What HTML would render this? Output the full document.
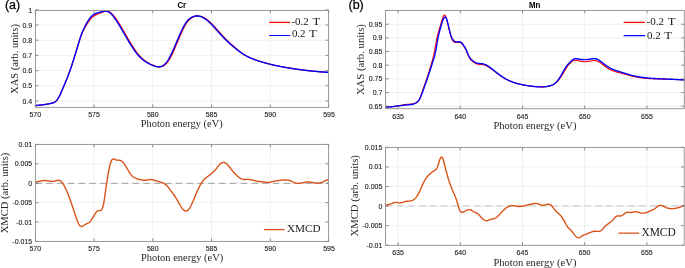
<!DOCTYPE html>
<html><head><meta charset="utf-8"><title>XAS / XMCD</title>
<style>html,body{margin:0;padding:0;background:#fff;width:685px;height:268px;overflow:hidden}svg{display:block;will-change:transform}</style>
</head><body>
<svg width="685" height="268" viewBox="0 0 685 268">
<defs><clipPath id="cTL"><rect x="35.4" y="10.4" width="293.2" height="96.95"/></clipPath><clipPath id="cBL"><rect x="35.4" y="144.4" width="293.2" height="97"/></clipPath><clipPath id="cTR"><rect x="385.6" y="10.4" width="298.7" height="98.3"/></clipPath><clipPath id="cBR"><rect x="385.6" y="147.4" width="298.6" height="97.9"/></clipPath></defs>
<rect width="685" height="268" fill="#fff"/>
<g stroke="#e6e6e6" stroke-width="0.6"><line x1="94.05" y1="10.4" x2="94.05" y2="107.35"/><line x1="152.8" y1="10.4" x2="152.8" y2="107.35"/><line x1="211.55" y1="10.4" x2="211.55" y2="107.35"/><line x1="270.3" y1="10.4" x2="270.3" y2="107.35"/><line x1="35.4" y1="101" x2="328.6" y2="101"/><line x1="35.4" y1="85.8" x2="328.6" y2="85.8"/><line x1="35.4" y1="70.6" x2="328.6" y2="70.6"/><line x1="35.4" y1="55.4" x2="328.6" y2="55.4"/><line x1="35.4" y1="40.2" x2="328.6" y2="40.2"/><line x1="35.4" y1="25" x2="328.6" y2="25"/></g>
<g stroke="#e6e6e6" stroke-width="0.6"><line x1="94.05" y1="144.4" x2="94.05" y2="241.4"/><line x1="152.8" y1="144.4" x2="152.8" y2="241.4"/><line x1="211.55" y1="144.4" x2="211.55" y2="241.4"/><line x1="270.3" y1="144.4" x2="270.3" y2="241.4"/><line x1="35.4" y1="222" x2="328.6" y2="222"/><line x1="35.4" y1="202.6" x2="328.6" y2="202.6"/><line x1="35.4" y1="183.2" x2="328.6" y2="183.2"/><line x1="35.4" y1="163.8" x2="328.6" y2="163.8"/></g>
<g stroke="#e6e6e6" stroke-width="0.6"><line x1="398.05" y1="10.4" x2="398.05" y2="108.7"/><line x1="460.27" y1="10.4" x2="460.27" y2="108.7"/><line x1="522.5" y1="10.4" x2="522.5" y2="108.7"/><line x1="584.73" y1="10.4" x2="584.73" y2="108.7"/><line x1="646.96" y1="10.4" x2="646.96" y2="108.7"/><line x1="385.6" y1="106.2" x2="684.3" y2="106.2"/><line x1="385.6" y1="92.54" x2="684.3" y2="92.54"/><line x1="385.6" y1="78.87" x2="684.3" y2="78.87"/><line x1="385.6" y1="65.2" x2="684.3" y2="65.2"/><line x1="385.6" y1="51.54" x2="684.3" y2="51.54"/><line x1="385.6" y1="37.88" x2="684.3" y2="37.88"/><line x1="385.6" y1="24.21" x2="684.3" y2="24.21"/></g>
<g stroke="#e6e6e6" stroke-width="0.6"><line x1="398.04" y1="147.4" x2="398.04" y2="245.3"/><line x1="460.25" y1="147.4" x2="460.25" y2="245.3"/><line x1="522.46" y1="147.4" x2="522.46" y2="245.3"/><line x1="584.67" y1="147.4" x2="584.67" y2="245.3"/><line x1="646.88" y1="147.4" x2="646.88" y2="245.3"/><line x1="385.6" y1="225.72" x2="684.2" y2="225.72"/><line x1="385.6" y1="206.14" x2="684.2" y2="206.14"/><line x1="385.6" y1="186.56" x2="684.2" y2="186.56"/><line x1="385.6" y1="166.98" x2="684.2" y2="166.98"/></g>
<line x1="35.4" y1="183.4" x2="328.6" y2="183.4" stroke="#8f8f8f" stroke-width="0.8" stroke-dasharray="6.5 4.3"/>
<line x1="385.8" y1="205.9" x2="684.2" y2="205.9" stroke="#cfcfcf" stroke-width="1.2" stroke-dasharray="6.9 4.1"/>
<g fill="none" stroke-linejoin="round" stroke-linecap="round">
<path clip-path="url(#cTL)" d="M35.4,105.59 35.9,105.54 36.4,105.5 36.9,105.45 37.4,105.4 37.9,105.34 38.4,105.29 38.9,105.24 39.4,105.19 39.9,105.13 40.4,105.08 40.9,105.02 41.4,104.96 41.9,104.9 42.4,104.84 42.9,104.77 43.4,104.71 43.9,104.64 44.4,104.57 44.9,104.49 45.4,104.42 45.9,104.34 46.4,104.26 46.9,104.18 47.4,104.09 47.9,104 48.4,103.91 48.9,103.81 49.4,103.71 49.9,103.61 50.4,103.51 50.9,103.4 51.4,103.28 51.9,103.16 52.4,103.03 52.9,102.89 53.4,102.72 53.9,102.51 54.4,102.26 54.9,101.97 55.4,101.61 55.9,101.19 56.4,100.7 56.9,100.13 57.4,99.47 57.9,98.73 58.4,97.91 58.9,97.02 59.4,96.07 59.9,95.07 60.4,94.02 60.9,92.92 61.4,91.8 61.9,90.65 62.4,89.48 62.9,88.3 63.4,87.11 63.9,85.93 64.4,84.74 64.9,83.55 65.4,82.36 65.9,81.15 66.4,79.93 66.9,78.69 67.4,77.44 67.9,76.16 68.4,74.86 68.91,73.54 69.41,72.18 69.91,70.79 70.41,69.37 70.91,67.92 71.41,66.44 71.92,64.93 72.42,63.4 72.92,61.84 73.43,60.27 73.93,58.68 74.44,57.06 74.94,55.44 75.45,53.8 75.96,52.15 76.47,50.49 76.98,48.82 77.49,47.15 78,45.48 78.52,43.8 79.04,42.12 79.56,40.47 80.08,38.86 80.61,37.3 81.14,35.83 81.67,34.45 82.2,33.18 82.73,31.98 83.27,30.84 83.81,29.76 84.34,28.71 84.88,27.69 85.42,26.7 85.95,25.75 86.49,24.84 87.02,23.96 87.55,23.12 88.08,22.32 88.61,21.55 89.13,20.83 89.65,20.15 90.17,19.5 90.69,18.9 91.2,18.33 91.72,17.8 92.23,17.31 92.74,16.86 93.25,16.45 93.76,16.07 94.26,15.73 94.77,15.41 95.27,15.12 95.78,14.85 96.28,14.6 96.78,14.37 97.29,14.15 97.79,13.94 98.29,13.74 98.79,13.54 99.29,13.35 99.79,13.16 100.29,12.98 100.8,12.79 101.3,12.6 101.8,12.4 102.3,12.21 102.8,12.02 103.3,11.84 103.8,11.67 104.3,11.53 104.8,11.4 105.3,11.31 105.8,11.24 106.3,11.21 106.8,11.22 107.3,11.26 107.8,11.35 108.3,11.48 108.8,11.66 109.3,11.87 109.8,12.14 110.3,12.44 110.8,12.79 111.3,13.19 111.8,13.63 112.3,14.12 112.8,14.64 113.3,15.21 113.8,15.8 114.3,16.43 114.8,17.09 115.3,17.77 115.8,18.47 116.3,19.2 116.8,19.94 117.3,20.69 117.8,21.46 118.3,22.24 118.8,23.03 119.3,23.84 119.8,24.65 120.3,25.47 120.8,26.31 121.3,27.14 121.8,27.99 122.3,28.84 122.8,29.7 123.3,30.56 123.8,31.42 124.3,32.29 124.8,33.16 125.3,34.03 125.8,34.9 126.3,35.77 126.8,36.64 127.3,37.5 127.8,38.37 128.3,39.22 128.8,40.08 129.3,40.93 129.8,41.77 130.3,42.6 130.8,43.43 131.3,44.25 131.8,45.06 132.3,45.85 132.8,46.64 133.3,47.41 133.8,48.18 134.3,48.92 134.8,49.66 135.3,50.37 135.8,51.07 136.3,51.76 136.8,52.42 137.3,53.07 137.8,53.7 138.3,54.31 138.8,54.89 139.3,55.46 139.8,56.01 140.3,56.54 140.8,57.05 141.3,57.55 141.8,58.03 142.3,58.49 142.8,58.93 143.3,59.36 143.8,59.77 144.3,60.17 144.8,60.56 145.3,60.93 145.8,61.28 146.3,61.63 146.8,61.96 147.3,62.27 147.8,62.58 148.3,62.88 148.8,63.16 149.3,63.43 149.8,63.7 150.3,63.95 150.8,64.2 151.3,64.43 151.8,64.66 152.3,64.88 152.8,65.1 153.3,65.3 153.8,65.5 154.3,65.7 154.8,65.88 155.3,66.05 155.8,66.21 156.3,66.36 156.8,66.49 157.3,66.6 157.8,66.69 158.3,66.76 158.8,66.81 159.3,66.83 159.8,66.82 160.3,66.79 160.8,66.73 161.3,66.63 161.8,66.5 162.3,66.34 162.8,66.14 163.3,65.9 163.8,65.62 164.3,65.3 164.8,64.93 165.3,64.53 165.8,64.07 166.3,63.57 166.8,63.02 167.3,62.43 167.8,61.78 168.3,61.09 168.8,60.35 169.3,59.55 169.8,58.71 170.3,57.82 170.8,56.9 171.3,55.93 171.8,54.93 172.3,53.9 172.8,52.84 173.3,51.75 173.8,50.64 174.3,49.51 174.8,48.36 175.3,47.2 175.8,46.03 176.3,44.85 176.8,43.67 177.3,42.49 177.8,41.3 178.3,40.12 178.8,38.94 179.3,37.77 179.8,36.6 180.3,35.45 180.8,34.31 181.3,33.18 181.8,32.07 182.3,30.99 182.8,29.93 183.3,28.9 183.8,27.9 184.3,26.93 184.8,26.01 185.3,25.12 185.8,24.29 186.3,23.5 186.8,22.76 187.3,22.07 187.8,21.43 188.3,20.84 188.8,20.29 189.3,19.79 189.8,19.32 190.3,18.89 190.8,18.5 191.3,18.13 191.8,17.8 192.3,17.5 192.8,17.23 193.3,16.98 193.8,16.76 194.3,16.57 194.8,16.4 195.3,16.27 195.8,16.15 196.3,16.06 196.8,16 197.3,15.96 197.8,15.95 198.3,15.96 198.8,16 199.3,16.05 199.8,16.13 200.3,16.23 200.8,16.36 201.3,16.5 201.8,16.67 202.3,16.86 202.8,17.07 203.3,17.29 203.8,17.54 204.3,17.81 204.8,18.09 205.3,18.4 205.8,18.72 206.3,19.06 206.8,19.42 207.3,19.79 207.8,20.18 208.3,20.59 208.8,21.01 209.3,21.44 209.79,21.89 210.29,22.35 210.79,22.82 211.29,23.3 211.79,23.8 212.29,24.3 212.79,24.81 213.29,25.34 213.79,25.86 214.29,26.4 214.79,26.94 215.29,27.49 215.79,28.04 216.29,28.6 216.78,29.16 217.28,29.72 217.78,30.28 218.28,30.84 218.78,31.41 219.28,31.97 219.77,32.54 220.27,33.1 220.77,33.66 221.27,34.21 221.76,34.77 222.26,35.31 222.76,35.85 223.25,36.39 223.75,36.92 224.25,37.44 224.74,37.95 225.24,38.46 225.73,38.96 226.23,39.46 226.72,39.94 227.22,40.43 227.71,40.9 228.2,41.37 228.69,41.84 229.19,42.3 229.68,42.75 230.17,43.21 230.66,43.65 231.15,44.1 231.64,44.53 232.13,44.97 232.61,45.4 233.1,45.83 233.59,46.26 234.08,46.68 234.56,47.1 235.05,47.52 235.53,47.93 236.01,48.35 236.5,48.76 236.98,49.16 237.46,49.56 237.95,49.96 238.43,50.36 238.91,50.74 239.39,51.13 239.87,51.51 240.35,51.88 240.84,52.24 241.32,52.6 241.8,52.95 242.28,53.29 242.76,53.63 243.24,53.95 243.73,54.27 244.21,54.58 244.69,54.88 245.18,55.17 245.66,55.46 246.15,55.73 246.63,56 247.12,56.26 247.6,56.52 248.09,56.77 248.58,57.01 249.07,57.25 249.56,57.48 250.04,57.7 250.54,57.92 251.03,58.13 251.52,58.34 252.01,58.55 252.5,58.75 252.99,58.94 253.49,59.13 253.98,59.32 254.47,59.51 254.97,59.69 255.46,59.87 255.96,60.05 256.45,60.22 256.95,60.39 257.45,60.56 257.94,60.73 258.44,60.9 258.94,61.06 259.43,61.22 259.93,61.38 260.43,61.54 260.93,61.7 261.42,61.85 261.92,62 262.42,62.15 262.92,62.3 263.42,62.45 263.92,62.59 264.42,62.74 264.91,62.88 265.41,63.02 265.91,63.15 266.41,63.29 266.91,63.42 267.41,63.56 267.91,63.69 268.41,63.82 268.91,63.94 269.41,64.07 269.91,64.19 270.41,64.32 270.91,64.44 271.4,64.56 271.9,64.68 272.4,64.79 272.9,64.91 273.4,65.02 273.9,65.14 274.4,65.25 274.9,65.36 275.4,65.47 275.9,65.57 276.4,65.68 276.9,65.78 277.4,65.89 277.9,65.99 278.4,66.09 278.9,66.19 279.4,66.29 279.9,66.39 280.4,66.48 280.9,66.58 281.4,66.67 281.9,66.77 282.4,66.86 282.9,66.95 283.4,67.04 283.9,67.13 284.4,67.22 284.9,67.31 285.4,67.4 285.9,67.48 286.4,67.57 286.9,67.65 287.4,67.74 287.9,67.82 288.4,67.9 288.9,67.98 289.4,68.06 289.9,68.14 290.4,68.22 290.9,68.3 291.4,68.38 291.9,68.46 292.4,68.54 292.9,68.61 293.4,68.69 293.9,68.76 294.4,68.84 294.9,68.91 295.4,68.98 295.9,69.06 296.4,69.13 296.9,69.2 297.4,69.27 297.9,69.34 298.4,69.41 298.9,69.48 299.4,69.54 299.9,69.61 300.4,69.68 300.9,69.74 301.4,69.81 301.9,69.87 302.4,69.94 302.9,70 303.4,70.06 303.9,70.13 304.4,70.19 304.9,70.25 305.4,70.31 305.9,70.37 306.4,70.43 306.9,70.48 307.4,70.54 307.9,70.6 308.4,70.65 308.9,70.71 309.4,70.76 309.9,70.82 310.4,70.87 310.9,70.92 311.4,70.98 311.9,71.03 312.4,71.08 312.9,71.13 313.4,71.18 313.9,71.23 314.4,71.28 314.9,71.32 315.4,71.37 315.9,71.42 316.4,71.46 316.9,71.51 317.4,71.55 317.9,71.6 318.4,71.64 318.9,71.68 319.4,71.72 319.9,71.77 320.4,71.81 320.9,71.85 321.4,71.89 321.9,71.93 322.4,71.96 322.9,72 323.4,72.04 323.9,72.07 324.4,72.11 324.9,72.14 325.4,72.18 325.9,72.21 326.4,72.25 326.9,72.28 327.4,72.31 327.9,72.34 328.4,72.37 328.6,72.38" stroke="#ff0000" stroke-width="1.2"/>
<path clip-path="url(#cTL)" d="M35.4,105.59 35.9,105.54 36.4,105.5 36.9,105.45 37.4,105.4 37.9,105.34 38.4,105.29 38.9,105.24 39.4,105.19 39.9,105.13 40.4,105.08 40.9,105.02 41.4,104.96 41.9,104.9 42.4,104.84 42.9,104.77 43.4,104.71 43.9,104.64 44.4,104.57 44.9,104.49 45.4,104.42 45.9,104.34 46.4,104.26 46.9,104.18 47.4,104.09 47.9,104 48.4,103.91 48.9,103.81 49.4,103.71 49.9,103.61 50.4,103.51 50.9,103.4 51.4,103.28 51.9,103.16 52.4,103.03 52.9,102.89 53.4,102.72 53.9,102.51 54.4,102.26 54.9,101.97 55.4,101.61 55.9,101.19 56.4,100.7 56.9,100.13 57.4,99.47 57.9,98.73 58.4,97.91 58.9,97.02 59.4,96.07 59.9,95.07 60.4,94.02 60.9,92.92 61.4,91.8 61.9,90.65 62.4,89.48 62.9,88.3 63.4,87.11 63.9,85.93 64.4,84.74 64.9,83.55 65.4,82.36 65.9,81.15 66.4,79.93 66.9,78.69 67.4,77.44 67.9,76.16 68.4,74.86 68.9,73.54 69.4,72.18 69.9,70.79 70.4,69.37 70.9,67.92 71.4,66.44 71.9,64.93 72.4,63.4 72.9,61.84 73.4,60.27 73.9,58.68 74.4,57.06 74.9,55.44 75.4,53.8 75.9,52.15 76.4,50.49 76.9,48.82 77.4,47.15 77.9,45.47 78.4,43.79 78.9,42.11 79.4,40.46 79.9,38.84 80.4,37.28 80.9,35.8 81.4,34.41 81.9,33.12 82.4,31.91 82.9,30.76 83.4,29.66 83.9,28.58 84.4,27.54 84.9,26.52 85.4,25.53 85.9,24.57 86.4,23.65 86.9,22.76 87.4,21.9 87.9,21.09 88.4,20.3 88.9,19.56 89.4,18.85 89.9,18.19 90.4,17.56 90.9,16.98 91.4,16.44 91.9,15.95 92.4,15.5 92.9,15.09 93.4,14.73 93.9,14.41 94.4,14.12 94.9,13.87 95.4,13.64 95.9,13.44 96.4,13.26 96.9,13.09 97.4,12.95 97.9,12.81 98.4,12.68 98.9,12.55 99.4,12.43 99.9,12.3 100.4,12.16 100.9,12.02 101.4,11.88 101.9,11.74 102.4,11.6 102.9,11.48 103.4,11.36 103.9,11.27 104.4,11.2 104.9,11.15 105.4,11.14 105.9,11.16 106.4,11.22 106.9,11.32 107.4,11.46 107.9,11.64 108.4,11.86 108.9,12.12 109.4,12.43 109.9,12.79 110.4,13.18 110.9,13.63 111.4,14.12 111.9,14.64 112.4,15.2 112.9,15.8 113.4,16.43 113.9,17.09 114.4,17.77 114.9,18.47 115.4,19.2 115.9,19.94 116.4,20.69 116.9,21.46 117.4,22.24 117.9,23.03 118.4,23.84 118.9,24.65 119.4,25.47 119.9,26.31 120.4,27.14 120.9,27.99 121.4,28.84 121.9,29.7 122.4,30.56 122.9,31.42 123.4,32.29 123.9,33.16 124.4,34.03 124.9,34.9 125.4,35.77 125.9,36.64 126.4,37.5 126.9,38.37 127.4,39.22 127.9,40.08 128.4,40.93 128.9,41.77 129.4,42.6 129.9,43.43 130.4,44.25 130.9,45.06 131.4,45.85 131.9,46.64 132.4,47.41 132.9,48.18 133.4,48.92 133.9,49.66 134.4,50.37 134.9,51.07 135.4,51.76 135.9,52.42 136.4,53.07 136.9,53.7 137.4,54.31 137.9,54.89 138.4,55.46 138.9,56.01 139.4,56.54 139.9,57.05 140.4,57.55 140.9,58.03 141.4,58.49 141.9,58.93 142.4,59.36 142.9,59.77 143.4,60.17 143.9,60.56 144.4,60.93 144.9,61.28 145.4,61.63 145.9,61.96 146.4,62.27 146.9,62.58 147.4,62.88 147.9,63.16 148.4,63.43 148.9,63.7 149.4,63.95 149.9,64.2 150.4,64.43 150.9,64.66 151.4,64.88 151.9,65.1 152.4,65.3 152.9,65.5 153.4,65.7 153.9,65.88 154.4,66.05 154.9,66.21 155.4,66.36 155.9,66.49 156.4,66.6 156.9,66.69 157.4,66.76 157.9,66.81 158.4,66.83 158.9,66.82 159.4,66.79 159.9,66.73 160.4,66.63 160.9,66.5 161.4,66.34 161.9,66.14 162.4,65.9 162.9,65.62 163.4,65.3 163.9,64.93 164.4,64.53 164.9,64.07 165.4,63.57 165.9,63.02 166.4,62.43 166.9,61.78 167.4,61.09 167.9,60.35 168.4,59.55 168.9,58.71 169.4,57.82 169.9,56.9 170.4,55.93 170.9,54.93 171.4,53.9 171.9,52.84 172.4,51.75 172.9,50.64 173.4,49.51 173.9,48.36 174.4,47.2 174.9,46.03 175.4,44.85 175.9,43.67 176.4,42.49 176.9,41.3 177.4,40.12 177.9,38.94 178.4,37.77 178.9,36.6 179.4,35.45 179.9,34.31 180.4,33.18 180.9,32.07 181.4,30.99 181.9,29.93 182.4,28.9 182.9,27.9 183.4,26.93 183.9,26.01 184.4,25.12 184.9,24.29 185.4,23.5 185.9,22.76 186.4,22.07 186.9,21.43 187.4,20.84 187.9,20.29 188.4,19.79 188.9,19.32 189.4,18.89 189.9,18.5 190.4,18.13 190.9,17.8 191.4,17.5 191.9,17.23 192.4,16.98 192.9,16.76 193.4,16.57 193.9,16.4 194.4,16.27 194.9,16.15 195.4,16.06 195.9,16 196.4,15.96 196.9,15.95 197.4,15.96 197.9,16 198.4,16.05 198.9,16.13 199.4,16.23 199.9,16.36 200.4,16.5 200.9,16.67 201.4,16.86 201.9,17.07 202.4,17.29 202.9,17.54 203.4,17.81 203.9,18.09 204.4,18.4 204.9,18.72 205.4,19.06 205.9,19.42 206.4,19.79 206.9,20.18 207.4,20.59 207.9,21.01 208.4,21.44 208.9,21.89 209.4,22.35 209.9,22.82 210.4,23.3 210.9,23.8 211.4,24.3 211.9,24.81 212.4,25.34 212.9,25.86 213.4,26.4 213.9,26.94 214.4,27.49 214.9,28.04 215.4,28.6 215.9,29.16 216.4,29.72 216.9,30.28 217.4,30.84 217.9,31.41 218.4,31.97 218.9,32.54 219.4,33.1 219.9,33.66 220.4,34.21 220.9,34.77 221.4,35.31 221.9,35.85 222.4,36.39 222.9,36.92 223.4,37.44 223.9,37.95 224.4,38.46 224.9,38.96 225.4,39.46 225.9,39.94 226.4,40.43 226.9,40.9 227.4,41.37 227.9,41.84 228.4,42.3 228.9,42.75 229.4,43.21 229.9,43.65 230.4,44.1 230.9,44.53 231.4,44.97 231.9,45.4 232.4,45.83 232.9,46.26 233.4,46.68 233.9,47.1 234.4,47.52 234.9,47.93 235.4,48.35 235.9,48.76 236.4,49.16 236.9,49.56 237.4,49.96 237.9,50.36 238.4,50.74 238.9,51.13 239.4,51.51 239.9,51.88 240.4,52.24 240.9,52.6 241.4,52.95 241.9,53.29 242.4,53.63 242.9,53.95 243.4,54.27 243.9,54.58 244.4,54.88 244.9,55.17 245.4,55.46 245.9,55.73 246.4,56 246.9,56.26 247.4,56.52 247.9,56.77 248.4,57.01 248.9,57.25 249.4,57.48 249.9,57.7 250.4,57.92 250.9,58.13 251.4,58.34 251.9,58.55 252.4,58.75 252.9,58.94 253.4,59.13 253.9,59.32 254.4,59.51 254.9,59.69 255.4,59.87 255.9,60.05 256.4,60.22 256.9,60.39 257.4,60.56 257.9,60.73 258.4,60.9 258.9,61.06 259.4,61.22 259.9,61.38 260.4,61.54 260.9,61.7 261.4,61.85 261.9,62 262.4,62.15 262.9,62.3 263.4,62.45 263.9,62.59 264.4,62.74 264.9,62.88 265.4,63.02 265.9,63.15 266.4,63.29 266.9,63.42 267.4,63.56 267.9,63.69 268.4,63.82 268.9,63.94 269.4,64.07 269.9,64.19 270.4,64.32 270.9,64.44 271.4,64.56 271.9,64.68 272.4,64.79 272.9,64.91 273.4,65.02 273.9,65.14 274.4,65.25 274.9,65.36 275.4,65.47 275.9,65.57 276.4,65.68 276.9,65.78 277.4,65.89 277.9,65.99 278.4,66.09 278.9,66.19 279.4,66.29 279.9,66.39 280.4,66.48 280.9,66.58 281.4,66.67 281.9,66.77 282.4,66.86 282.9,66.95 283.4,67.04 283.9,67.13 284.4,67.22 284.9,67.31 285.4,67.4 285.9,67.48 286.4,67.57 286.9,67.65 287.4,67.74 287.9,67.82 288.4,67.9 288.9,67.98 289.4,68.06 289.9,68.14 290.4,68.22 290.9,68.3 291.4,68.38 291.9,68.46 292.4,68.54 292.9,68.61 293.4,68.69 293.9,68.76 294.4,68.84 294.9,68.91 295.4,68.98 295.9,69.06 296.4,69.13 296.9,69.2 297.4,69.27 297.9,69.34 298.4,69.41 298.9,69.48 299.4,69.54 299.9,69.61 300.4,69.68 300.9,69.74 301.4,69.81 301.9,69.87 302.4,69.94 302.9,70 303.4,70.06 303.9,70.13 304.4,70.19 304.9,70.25 305.4,70.31 305.9,70.37 306.4,70.43 306.9,70.48 307.4,70.54 307.9,70.6 308.4,70.65 308.9,70.71 309.4,70.76 309.9,70.82 310.4,70.87 310.9,70.92 311.4,70.98 311.9,71.03 312.4,71.08 312.9,71.13 313.4,71.18 313.9,71.23 314.4,71.28 314.9,71.32 315.4,71.37 315.9,71.42 316.4,71.46 316.9,71.51 317.4,71.55 317.9,71.6 318.4,71.64 318.9,71.68 319.4,71.72 319.9,71.77 320.4,71.81 320.9,71.85 321.4,71.89 321.9,71.93 322.4,71.96 322.9,72 323.4,72.04 323.9,72.07 324.4,72.11 324.9,72.14 325.4,72.18 325.9,72.21 326.4,72.25 326.9,72.28 327.4,72.31 327.9,72.34 328.4,72.37 328.6,72.38" stroke="#0000ff" stroke-width="1.4"/>
<path clip-path="url(#cTR)" d="M385.6,107.09 386.1,107.08 386.6,107.06 387.1,107.05 387.6,107.03 388.1,107 388.6,106.97 389.1,106.94 389.6,106.9 390.1,106.86 390.6,106.82 391.1,106.77 391.6,106.72 392.1,106.66 392.6,106.61 393.1,106.55 393.6,106.48 394.1,106.42 394.6,106.35 395.1,106.28 395.6,106.2 396.1,106.12 396.6,106.04 397.1,105.96 397.6,105.88 398.1,105.79 398.6,105.7 399.1,105.61 399.6,105.52 400.1,105.43 400.6,105.34 401.1,105.24 401.6,105.15 402.1,105.06 402.6,104.97 403.1,104.89 403.6,104.8 404.1,104.72 404.6,104.64 405.1,104.57 405.6,104.5 406.1,104.44 406.6,104.38 407.1,104.33 407.6,104.29 408.1,104.25 408.6,104.21 409.1,104.18 409.6,104.14 410.1,104.11 410.6,104.07 411.1,104.01 411.6,103.95 412.1,103.88 412.59,103.79 413.09,103.69 413.59,103.56 414.08,103.41 414.58,103.23 415.07,103.03 415.56,102.79 416.04,102.53 416.53,102.23 417.01,101.88 417.49,101.49 417.97,101.02 418.44,100.45 418.91,99.78 419.38,98.96 419.84,98.01 420.3,96.94 420.77,95.76 421.23,94.52 421.69,93.22 422.16,91.89 422.63,90.54 423.1,89.18 423.57,87.8 424.05,86.41 424.54,85 425.03,83.58 425.52,82.15 426.01,80.7 426.51,79.24 427,77.78 427.5,76.3 427.99,74.81 428.48,73.31 428.96,71.8 429.44,70.28 429.91,68.75 430.38,67.21 430.84,65.66 431.3,64.09 431.76,62.51 432.21,60.92 432.67,59.31 433.12,57.61 433.58,55.78 434.05,53.74 434.52,51.44 435,48.81 435.49,45.97 435.99,43.04 436.5,40.19 437.02,37.55 437.55,35.23 438.09,33.14 438.64,31.22 439.2,29.38 439.76,27.53 440.32,25.68 440.89,23.81 441.45,21.94 442.02,20.09 442.59,18.33 443.15,16.78 443.71,15.61 444.26,15.01 444.81,15.04 445.36,15.71 445.9,16.92 446.43,18.56 446.96,20.51 447.49,22.64 448.01,24.88 448.53,27.18 449.04,29.47 449.56,31.68 450.07,33.74 450.57,35.6 451.08,37.2 451.59,38.53 452.09,39.61 452.59,40.46 453.09,41.12 453.6,41.61 454.1,41.97 454.6,42.21 455.1,42.37 455.6,42.48 456.1,42.54 456.6,42.56 457.1,42.55 457.6,42.5 458.1,42.44 458.6,42.37 459.1,42.34 459.6,42.37 460.1,42.48 460.6,42.68 461.1,42.98 461.6,43.39 462.1,43.91 462.6,44.53 463.1,45.24 463.6,46 464.1,46.79 464.6,47.58 465.1,48.42 465.6,49.35 466.1,50.4 466.6,51.55 467.1,52.76 467.6,53.98 468.1,55.17 468.6,56.29 469.1,57.29 469.6,58.16 470.1,58.91 470.6,59.55 471.1,60.1 471.6,60.59 472.1,61.03 472.6,61.44 473.1,61.84 473.6,62.2 474.1,62.55 474.6,62.86 475.1,63.15 475.6,63.41 476.1,63.63 476.6,63.83 477.1,63.98 477.6,64.11 478.1,64.2 478.6,64.27 479.1,64.33 479.6,64.37 480.1,64.4 480.6,64.43 481.1,64.46 481.6,64.5 482.1,64.55 482.6,64.62 483.1,64.7 483.6,64.81 484.1,64.94 484.6,65.09 485.1,65.26 485.6,65.45 486.1,65.66 486.6,65.89 487.1,66.14 487.6,66.42 488.1,66.71 488.6,67.02 489.1,67.35 489.6,67.68 490.1,68.03 490.6,68.39 491.1,68.75 491.6,69.12 492.1,69.49 492.6,69.87 493.1,70.25 493.6,70.63 494.1,71.01 494.6,71.4 495.1,71.78 495.6,72.16 496.1,72.55 496.6,72.93 497.1,73.31 497.6,73.69 498.1,74.06 498.6,74.44 499.1,74.8 499.6,75.17 500.1,75.53 500.6,75.88 501.1,76.22 501.6,76.56 502.1,76.89 502.6,77.21 503.1,77.53 503.6,77.83 504.1,78.13 504.6,78.42 505.1,78.7 505.6,78.98 506.1,79.24 506.6,79.5 507.1,79.75 507.6,80 508.1,80.23 508.6,80.46 509.1,80.69 509.6,80.9 510.1,81.11 510.6,81.32 511.1,81.52 511.6,81.71 512.1,81.89 512.6,82.07 513.1,82.25 513.6,82.42 514.1,82.59 514.6,82.75 515.1,82.9 515.6,83.05 516.1,83.2 516.6,83.34 517.1,83.48 517.6,83.61 518.1,83.74 518.6,83.87 519.1,83.99 519.6,84.11 520.1,84.23 520.6,84.34 521.1,84.45 521.6,84.56 522.1,84.66 522.6,84.77 523.1,84.87 523.6,84.97 524.1,85.06 524.6,85.15 525.1,85.24 525.6,85.33 526.1,85.42 526.6,85.5 527.1,85.58 527.6,85.66 528.1,85.74 528.6,85.81 529.1,85.88 529.6,85.95 530.1,86.02 530.6,86.09 531.1,86.15 531.6,86.21 532.1,86.27 532.6,86.32 533.1,86.38 533.6,86.43 534.1,86.48 534.6,86.53 535.1,86.57 535.6,86.62 536.1,86.66 536.6,86.7 537.1,86.73 537.6,86.77 538.1,86.8 538.6,86.82 539.1,86.84 539.6,86.86 540.1,86.88 540.6,86.89 541.1,86.89 541.6,86.89 542.1,86.88 542.6,86.87 543.1,86.85 543.6,86.83 544.1,86.8 544.6,86.76 545.1,86.71 545.6,86.66 546.1,86.6 546.6,86.53 547.1,86.46 547.61,86.37 548.11,86.28 548.61,86.18 549.12,86.07 549.62,85.94 550.13,85.81 550.63,85.66 551.14,85.49 551.66,85.3 552.17,85.09 552.69,84.86 553.21,84.6 553.73,84.31 554.26,83.99 554.79,83.64 555.32,83.26 555.86,82.84 556.4,82.38 556.95,81.88 557.49,81.34 558.04,80.75 558.59,80.12 559.14,79.44 559.69,78.72 560.23,77.96 560.77,77.18 561.31,76.37 561.84,75.54 562.37,74.7 562.89,73.85 563.4,73 563.9,72.14 564.39,71.3 564.88,70.47 565.36,69.65 565.83,68.86 566.3,68.1 566.76,67.37 567.21,66.68 567.67,66.04 568.12,65.44 568.57,64.9 569.02,64.41 569.47,63.94 569.93,63.47 570.39,63 570.85,62.52 571.31,62.06 571.78,61.63 572.25,61.24 572.72,60.91 573.2,60.65 573.68,60.45 574.16,60.31 574.65,60.23 575.14,60.18 575.63,60.19 576.12,60.22 576.62,60.29 577.11,60.38 577.61,60.49 578.11,60.61 578.61,60.74 579.1,60.88 579.6,61.01 580.1,61.13 580.6,61.24 581.1,61.34 581.6,61.43 582.1,61.5 582.6,61.57 583.1,61.62 583.6,61.66 584.1,61.68 584.6,61.7 585.1,61.7 585.6,61.7 586.1,61.68 586.6,61.65 587.1,61.6 587.6,61.55 588.1,61.49 588.6,61.41 589.1,61.33 589.6,61.24 590.1,61.14 590.6,61.04 591.1,60.94 591.6,60.84 592.1,60.76 592.6,60.68 593.1,60.61 593.6,60.56 594.1,60.54 594.6,60.53 595.1,60.55 595.6,60.6 596.1,60.68 596.6,60.8 597.1,60.96 597.6,61.16 598.1,61.4 598.6,61.67 599.1,61.98 599.6,62.31 600.1,62.66 600.6,63.03 601.1,63.4 601.6,63.78 602.1,64.16 602.6,64.55 603.1,64.93 603.6,65.31 604.1,65.69 604.6,66.07 605.1,66.44 605.6,66.8 606.1,67.16 606.6,67.51 607.1,67.85 607.6,68.17 608.1,68.49 608.6,68.78 609.1,69.07 609.6,69.34 610.1,69.6 610.6,69.84 611.1,70.07 611.6,70.29 612.1,70.5 612.6,70.7 613.1,70.89 613.6,71.07 614.1,71.24 614.6,71.41 615.1,71.57 615.6,71.72 616.1,71.86 616.6,72 617.1,72.14 617.6,72.27 618.1,72.4 618.6,72.53 619.1,72.66 619.6,72.79 620.1,72.92 620.6,73.04 621.1,73.17 621.6,73.31 622.1,73.44 622.6,73.57 623.1,73.71 623.6,73.84 624.1,73.98 624.6,74.11 625.1,74.25 625.6,74.39 626.1,74.52 626.6,74.66 627.1,74.8 627.6,74.93 628.1,75.07 628.6,75.2 629.1,75.34 629.6,75.47 630.1,75.6 630.6,75.73 631.1,75.86 631.6,75.98 632.1,76.1 632.6,76.22 633.1,76.34 633.6,76.46 634.1,76.57 634.6,76.68 635.1,76.78 635.6,76.88 636.1,76.98 636.6,77.08 637.1,77.18 637.6,77.27 638.1,77.36 638.6,77.44 639.1,77.52 639.6,77.6 640.1,77.68 640.6,77.76 641.1,77.83 641.6,77.9 642.1,77.96 642.6,78.02 643.1,78.08 643.6,78.14 644.1,78.2 644.6,78.25 645.1,78.3 645.6,78.35 646.1,78.39 646.6,78.43 647.1,78.48 647.6,78.51 648.1,78.55 648.6,78.59 649.1,78.62 649.6,78.65 650.1,78.68 650.6,78.71 651.1,78.73 651.6,78.76 652.1,78.78 652.6,78.8 653.1,78.82 653.6,78.84 654.1,78.86 654.6,78.88 655.1,78.9 655.6,78.91 656.1,78.93 656.6,78.94 657.1,78.96 657.6,78.97 658.1,78.98 658.6,79 659.1,79.01 659.6,79.02 660.1,79.04 660.6,79.05 661.1,79.06 661.6,79.07 662.1,79.09 662.6,79.1 663.1,79.11 663.6,79.12 664.1,79.13 664.6,79.15 665.1,79.16 665.6,79.17 666.1,79.19 666.6,79.2 667.1,79.21 667.6,79.23 668.1,79.24 668.6,79.25 669.1,79.27 669.6,79.28 670.1,79.3 670.6,79.31 671.1,79.33 671.6,79.35 672.1,79.36 672.6,79.38 673.1,79.4 673.6,79.42 674.1,79.43 674.6,79.45 675.1,79.47 675.6,79.49 676.1,79.51 676.6,79.53 677.1,79.56 677.6,79.58 678.1,79.6 678.6,79.62 679.1,79.65 679.6,79.67 680.1,79.7 680.6,79.72 681.1,79.75 681.6,79.78 682.1,79.81 682.6,79.83 683.1,79.86 683.6,79.89 684.1,79.92 684.3,79.94" stroke="#ff0000" stroke-width="1.1"/>
<path clip-path="url(#cTR)" d="M385.6,107.09 386.1,107.08 386.6,107.07 387.1,107.05 387.6,107.03 388.1,107.01 388.6,106.98 389.1,106.95 389.6,106.91 390.1,106.87 390.6,106.83 391.1,106.79 391.6,106.74 392.1,106.69 392.6,106.64 393.1,106.59 393.6,106.53 394.1,106.47 394.6,106.41 395.1,106.35 395.6,106.29 396.1,106.23 396.6,106.16 397.1,106.1 397.6,106.03 398.1,105.97 398.6,105.9 399.1,105.84 399.6,105.77 400.1,105.71 400.6,105.64 401.1,105.58 401.6,105.51 402.1,105.45 402.6,105.39 403.1,105.33 403.6,105.27 404.1,105.22 404.6,105.16 405.1,105.11 405.6,105.06 406.1,105.01 406.6,104.97 407.1,104.92 407.6,104.88 408.1,104.85 408.6,104.81 409.1,104.77 409.6,104.73 410.1,104.68 410.6,104.62 411.1,104.55 411.6,104.47 412.1,104.37 412.6,104.25 413.1,104.12 413.6,103.97 414.1,103.79 414.6,103.58 415.1,103.35 415.6,103.09 416.1,102.79 416.6,102.47 417.1,102.1 417.6,101.68 418.1,101.19 418.6,100.6 419.1,99.91 419.6,99.08 420.1,98.11 420.6,97.02 421.1,95.83 421.6,94.57 422.1,93.27 422.6,91.93 423.1,90.58 423.6,89.21 424.1,87.82 424.6,86.43 425.1,85.01 425.6,83.59 426.1,82.15 426.6,80.7 427.1,79.24 427.6,77.77 428.1,76.29 428.6,74.8 429.1,73.3 429.6,71.79 430.1,70.27 430.6,68.74 431.1,67.19 431.6,65.64 432.1,64.07 432.6,62.49 433.1,60.9 433.6,59.28 434.1,57.59 434.6,55.75 435.1,53.71 435.6,51.4 436.1,48.78 436.6,45.92 437.1,43 437.6,40.14 438.1,37.5 438.6,35.17 439.1,33.08 439.6,31.16 440.1,29.32 440.6,27.5 441.1,25.7 441.6,23.97 442.1,22.35 442.6,20.87 443.1,19.57 443.6,18.51 444.1,17.71 444.6,17.22 445.1,17.08 445.6,17.31 446.1,17.96 446.6,19.05 447.1,20.54 447.6,22.32 448.1,24.31 448.6,26.42 449.1,28.56 449.6,30.65 450.1,32.61 450.6,34.39 451.1,35.93 451.6,37.24 452.1,38.32 452.6,39.21 453.1,39.93 453.6,40.5 454.1,40.95 454.6,41.28 455.1,41.53 455.6,41.72 456.1,41.85 456.6,41.92 457.1,41.94 457.6,41.92 458.1,41.87 458.6,41.82 459.1,41.78 459.6,41.8 460.1,41.9 460.6,42.09 461.1,42.37 461.6,42.76 462.1,43.27 462.6,43.88 463.1,44.57 463.6,45.32 464.1,46.08 464.6,46.86 465.1,47.68 465.6,48.6 466.1,49.64 466.6,50.77 467.1,51.97 467.6,53.17 468.1,54.35 468.6,55.46 469.1,56.46 469.6,57.31 470.1,58.05 470.6,58.68 471.1,59.23 471.6,59.71 472.1,60.15 472.6,60.55 473.1,60.94 473.6,61.31 474.1,61.65 474.6,61.96 475.1,62.25 475.6,62.51 476.1,62.74 476.6,62.93 477.1,63.09 477.6,63.22 478.1,63.32 478.6,63.4 479.1,63.46 479.6,63.51 480.1,63.55 480.6,63.59 481.1,63.63 481.6,63.68 482.1,63.74 482.6,63.82 483.1,63.92 483.6,64.04 484.1,64.18 484.6,64.34 485.1,64.53 485.6,64.73 486.1,64.96 486.6,65.21 487.1,65.48 487.6,65.77 488.1,66.08 488.6,66.41 489.1,66.75 489.6,67.1 490.1,67.47 490.6,67.84 491.1,68.22 491.6,68.61 492.1,69 492.6,69.4 493.1,69.79 493.6,70.19 494.1,70.59 494.6,70.99 495.1,71.39 495.6,71.79 496.1,72.19 496.6,72.59 497.1,72.98 497.6,73.38 498.1,73.77 498.6,74.15 499.1,74.53 499.6,74.91 500.1,75.28 500.6,75.64 501.1,76 501.6,76.35 502.1,76.69 502.6,77.03 503.1,77.35 503.6,77.67 504.1,77.98 504.6,78.27 505.1,78.56 505.6,78.85 506.1,79.12 506.6,79.39 507.1,79.64 507.6,79.89 508.1,80.14 508.6,80.37 509.1,80.6 509.6,80.83 510.1,81.04 510.6,81.25 511.1,81.45 511.6,81.65 512.1,81.84 512.6,82.03 513.1,82.21 513.6,82.38 514.1,82.55 514.6,82.71 515.1,82.87 515.6,83.02 516.1,83.17 516.6,83.32 517.1,83.46 517.6,83.59 518.1,83.72 518.6,83.85 519.1,83.98 519.6,84.1 520.1,84.21 520.6,84.33 521.1,84.44 521.6,84.55 522.1,84.66 522.6,84.76 523.1,84.86 523.6,84.96 524.1,85.06 524.6,85.15 525.1,85.24 525.6,85.33 526.1,85.41 526.6,85.5 527.1,85.58 527.6,85.66 528.1,85.74 528.6,85.81 529.1,85.88 529.6,85.95 530.1,86.02 530.6,86.08 531.1,86.15 531.6,86.21 532.1,86.27 532.6,86.32 533.1,86.38 533.6,86.43 534.1,86.48 534.6,86.53 535.1,86.57 535.6,86.62 536.1,86.66 536.6,86.7 537.1,86.73 537.6,86.77 538.1,86.8 538.6,86.82 539.1,86.84 539.6,86.86 540.1,86.88 540.6,86.88 541.1,86.89 541.6,86.89 542.1,86.88 542.6,86.87 543.1,86.85 543.6,86.82 544.1,86.79 544.6,86.75 545.1,86.71 545.6,86.66 546.1,86.59 546.6,86.53 547.1,86.45 547.6,86.36 548.1,86.27 548.6,86.17 549.1,86.05 549.6,85.93 550.1,85.79 550.6,85.64 551.1,85.47 551.6,85.27 552.1,85.06 552.6,84.82 553.1,84.56 553.6,84.27 554.1,83.94 554.6,83.59 555.1,83.2 555.6,82.77 556.1,82.3 556.6,81.79 557.1,81.24 557.6,80.64 558.1,80 558.6,79.31 559.1,78.57 559.6,77.8 560.1,77 560.6,76.17 561.1,75.33 561.6,74.46 562.1,73.59 562.6,72.71 563.1,71.84 563.6,70.97 564.1,70.1 564.6,69.26 565.1,68.44 565.6,67.64 566.1,66.88 566.6,66.15 567.1,65.47 567.6,64.83 568.1,64.25 568.6,63.71 569.1,63.19 569.6,62.68 570.1,62.16 570.6,61.63 571.1,61.12 571.6,60.64 572.1,60.2 572.6,59.81 573.1,59.5 573.6,59.25 574.1,59.05 574.6,58.91 575.1,58.82 575.6,58.76 576.1,58.75 576.6,58.76 577.1,58.8 577.6,58.86 578.1,58.94 578.6,59.02 579.1,59.11 579.6,59.2 580.1,59.29 580.6,59.36 581.1,59.43 581.6,59.48 582.1,59.53 582.6,59.57 583.1,59.59 583.6,59.61 584.1,59.62 584.6,59.63 585.1,59.62 585.6,59.61 586.1,59.58 586.6,59.55 587.1,59.51 587.6,59.46 588.1,59.41 588.6,59.34 589.1,59.27 589.6,59.19 590.1,59.11 590.6,59.02 591.1,58.94 591.6,58.87 592.1,58.8 592.6,58.74 593.1,58.7 593.6,58.67 594.1,58.66 594.6,58.68 595.1,58.72 595.6,58.79 596.1,58.89 596.6,59.03 597.1,59.2 597.6,59.42 598.1,59.67 598.6,59.96 599.1,60.28 599.6,60.63 600.1,60.99 600.6,61.37 601.1,61.75 601.6,62.14 602.1,62.52 602.6,62.91 603.1,63.3 603.6,63.69 604.1,64.07 604.6,64.45 605.1,64.83 605.6,65.2 606.1,65.56 606.6,65.91 607.1,66.26 607.6,66.59 608.1,66.91 608.6,67.22 609.1,67.51 609.6,67.79 610.1,68.06 610.6,68.32 611.1,68.56 611.6,68.8 612.1,69.03 612.6,69.25 613.1,69.46 613.6,69.66 614.1,69.85 614.6,70.04 615.1,70.22 615.6,70.4 616.1,70.57 616.6,70.74 617.1,70.9 617.6,71.07 618.1,71.22 618.6,71.38 619.1,71.54 619.6,71.69 620.1,71.85 620.6,72.01 621.1,72.17 621.6,72.32 622.1,72.48 622.6,72.64 623.1,72.8 623.6,72.96 624.1,73.11 624.6,73.27 625.1,73.43 625.6,73.58 626.1,73.74 626.6,73.89 627.1,74.04 627.6,74.19 628.1,74.34 628.6,74.49 629.1,74.63 629.6,74.78 630.1,74.91 630.6,75.05 631.1,75.19 631.6,75.32 632.1,75.44 632.6,75.57 633.1,75.69 633.6,75.8 634.1,75.92 634.6,76.03 635.1,76.14 635.6,76.24 636.1,76.34 636.6,76.44 637.1,76.54 637.6,76.63 638.1,76.72 638.6,76.81 639.1,76.9 639.6,76.98 640.1,77.06 640.6,77.14 641.1,77.21 641.6,77.28 642.1,77.35 642.6,77.42 643.1,77.49 643.6,77.55 644.1,77.61 644.6,77.67 645.1,77.73 645.6,77.79 646.1,77.84 646.6,77.89 647.1,77.94 647.6,77.99 648.1,78.04 648.6,78.08 649.1,78.13 649.6,78.17 650.1,78.21 650.6,78.25 651.1,78.29 651.6,78.33 652.1,78.36 652.6,78.4 653.1,78.43 653.6,78.46 654.1,78.5 654.6,78.53 655.1,78.56 655.6,78.59 656.1,78.61 656.6,78.64 657.1,78.67 657.6,78.69 658.1,78.72 658.6,78.74 659.1,78.77 659.6,78.79 660.1,78.82 660.6,78.84 661.1,78.86 661.6,78.89 662.1,78.91 662.6,78.93 663.1,78.95 663.6,78.97 664.1,78.99 664.6,79.02 665.1,79.04 665.6,79.06 666.1,79.08 666.6,79.1 667.1,79.12 667.6,79.14 668.1,79.16 668.6,79.18 669.1,79.2 669.6,79.22 670.1,79.24 670.6,79.26 671.1,79.28 671.6,79.3 672.1,79.32 672.6,79.34 673.1,79.36 673.6,79.38 674.1,79.4 674.6,79.42 675.1,79.45 675.6,79.47 676.1,79.49 676.6,79.51 677.1,79.54 677.6,79.56 678.1,79.58 678.6,79.61 679.1,79.63 679.6,79.66 680.1,79.69 680.6,79.71 681.1,79.74 681.6,79.77 682.1,79.8 682.6,79.83 683.1,79.86 683.6,79.89 684.1,79.92 684.3,79.93" stroke="#0000ff" stroke-width="1.4"/>
<path clip-path="url(#cBL)" d="M35.4,182.09 35.9,182.03 36.4,181.95 36.9,181.86 37.4,181.76 37.9,181.66 38.4,181.54 38.9,181.43 39.4,181.31 39.9,181.2 40.4,181.08 40.9,180.98 41.4,180.87 41.9,180.78 42.4,180.69 42.9,180.62 43.4,180.57 43.9,180.52 44.4,180.5 44.9,180.5 45.4,180.52 45.9,180.56 46.4,180.61 46.9,180.69 47.4,180.77 47.9,180.86 48.4,180.95 48.9,181.04 49.4,181.13 49.9,181.22 50.4,181.29 50.9,181.35 51.4,181.39 51.9,181.42 52.4,181.41 52.9,181.39 53.4,181.33 53.9,181.24 54.4,181.12 54.9,180.98 55.4,180.84 55.9,180.69 56.4,180.55 56.9,180.44 57.4,180.35 57.9,180.29 58.4,180.29 58.9,180.34 59.4,180.45 59.9,180.64 60.4,180.91 60.9,181.27 61.4,181.72 61.9,182.26 62.4,182.88 62.9,183.58 63.4,184.35 63.9,185.19 64.4,186.09 64.9,187.05 65.4,188.07 65.9,189.14 66.4,190.25 66.9,191.41 67.4,192.61 67.9,193.85 68.4,195.12 68.9,196.43 69.4,197.76 69.9,199.13 70.4,200.52 70.9,201.94 71.4,203.38 71.9,204.85 72.4,206.33 72.9,207.83 73.4,209.34 73.9,210.86 74.4,212.39 74.9,213.93 75.4,215.45 75.9,216.94 76.4,218.38 76.9,219.75 77.4,221.05 77.9,222.24 78.4,223.32 78.9,224.26 79.4,225.06 79.9,225.69 80.4,226.16 80.9,226.44 81.4,226.55 81.9,226.48 82.4,226.28 82.9,225.99 83.4,225.65 83.9,225.32 84.4,224.99 84.9,224.67 85.4,224.37 85.9,224.09 86.4,223.82 86.9,223.58 87.4,223.35 87.9,223.13 88.4,222.88 88.9,222.6 89.4,222.25 89.9,221.82 90.4,221.3 90.9,220.67 91.4,219.95 91.9,219.17 92.4,218.33 92.9,217.47 93.4,216.58 93.9,215.7 94.4,214.85 94.9,214.03 95.4,213.26 95.9,212.57 96.4,211.97 96.9,211.46 97.4,211.07 97.9,210.8 98.4,210.64 98.9,210.57 99.4,210.54 99.9,210.52 100.4,210.46 100.9,210.31 101.4,209.96 101.9,209.33 102.4,208.32 102.9,206.84 103.4,204.83 103.9,202.26 104.4,199.11 104.9,195.54 105.4,191.83 105.9,188.21 106.4,184.79 106.9,181.54 107.4,178.43 107.9,175.45 108.4,172.6 108.9,169.94 109.4,167.5 109.9,165.31 110.4,163.42 110.9,161.86 111.4,160.67 111.9,159.85 112.4,159.34 112.9,159.08 113.4,159.01 113.9,159.08 114.4,159.25 114.9,159.47 115.4,159.7 115.9,159.9 116.4,160.04 116.9,160.12 117.4,160.16 117.9,160.17 118.4,160.17 118.9,160.19 119.4,160.23 119.9,160.32 120.4,160.46 120.9,160.65 121.4,160.92 121.9,161.26 122.4,161.67 122.9,162.17 123.4,162.75 123.9,163.39 124.4,164.09 124.9,164.84 125.4,165.63 125.9,166.45 126.4,167.3 126.9,168.16 127.4,169.03 127.9,169.89 128.4,170.75 128.9,171.58 129.4,172.38 129.9,173.15 130.4,173.87 130.9,174.53 131.4,175.14 131.9,175.69 132.4,176.18 132.9,176.62 133.4,177.02 133.9,177.37 134.4,177.68 134.9,177.96 135.4,178.2 135.9,178.42 136.4,178.61 136.9,178.78 137.4,178.94 137.9,179.08 138.4,179.21 138.9,179.33 139.4,179.45 139.9,179.57 140.4,179.69 140.9,179.8 141.4,179.9 141.9,180 142.4,180.09 142.9,180.17 143.4,180.23 143.9,180.28 144.4,180.31 144.9,180.32 145.4,180.31 145.9,180.29 146.4,180.23 146.9,180.16 147.4,180.05 147.9,179.94 148.4,179.82 148.9,179.7 149.4,179.6 149.9,179.53 150.4,179.49 150.9,179.5 151.4,179.53 151.9,179.6 152.4,179.69 152.9,179.8 153.4,179.94 153.9,180.08 154.4,180.24 154.9,180.41 155.4,180.58 155.9,180.75 156.4,180.92 156.9,181.08 157.4,181.23 157.9,181.37 158.4,181.51 158.9,181.65 159.4,181.78 159.9,181.92 160.4,182.07 160.9,182.22 161.4,182.39 161.9,182.57 162.4,182.77 162.9,182.98 163.4,183.22 163.9,183.49 164.4,183.78 164.9,184.1 165.4,184.45 165.9,184.84 166.4,185.27 166.9,185.74 167.4,186.25 167.9,186.81 168.4,187.42 168.9,188.06 169.4,188.73 169.9,189.41 170.4,190.11 170.9,190.79 171.4,191.47 171.9,192.14 172.4,192.8 172.9,193.46 173.4,194.13 173.9,194.81 174.4,195.52 174.9,196.26 175.4,197.04 175.9,197.85 176.4,198.71 176.9,199.58 177.4,200.48 177.9,201.38 178.4,202.28 178.9,203.18 179.4,204.06 179.9,204.93 180.4,205.76 180.9,206.56 181.4,207.31 181.9,208.01 182.4,208.66 182.9,209.25 183.4,209.76 183.9,210.19 184.4,210.54 184.9,210.8 185.4,210.96 185.9,211.01 186.4,210.95 186.9,210.79 187.4,210.52 187.9,210.14 188.4,209.66 188.9,209.07 189.4,208.38 189.9,207.61 190.4,206.76 190.9,205.85 191.4,204.86 191.9,203.82 192.4,202.73 192.9,201.61 193.4,200.44 193.9,199.26 194.4,198.05 194.9,196.84 195.4,195.62 195.9,194.41 196.4,193.22 196.9,192.05 197.4,190.9 197.9,189.79 198.4,188.71 198.9,187.66 199.4,186.66 199.9,185.69 200.4,184.77 200.9,183.89 201.4,183.06 201.9,182.27 202.4,181.54 202.9,180.87 203.4,180.25 203.9,179.69 204.4,179.17 204.9,178.71 205.4,178.28 205.9,177.88 206.4,177.5 206.9,177.13 207.4,176.78 207.9,176.42 208.4,176.05 208.9,175.68 209.4,175.3 209.9,174.9 210.4,174.5 210.9,174.08 211.4,173.65 211.9,173.21 212.4,172.76 212.9,172.29 213.4,171.8 213.9,171.3 214.4,170.78 214.9,170.25 215.4,169.69 215.9,169.12 216.4,168.52 216.9,167.91 217.4,167.27 217.9,166.63 218.4,166 218.9,165.38 219.4,164.8 219.9,164.26 220.4,163.79 220.9,163.38 221.4,163.05 221.9,162.78 222.4,162.58 222.9,162.45 223.4,162.39 223.9,162.4 224.4,162.48 224.9,162.63 225.4,162.85 225.9,163.14 226.4,163.49 226.9,163.92 227.4,164.42 227.9,164.97 228.4,165.56 228.9,166.2 229.4,166.85 229.9,167.51 230.4,168.17 230.9,168.82 231.4,169.46 231.9,170.09 232.4,170.7 232.9,171.3 233.4,171.89 233.9,172.46 234.4,173.02 234.9,173.56 235.4,174.08 235.9,174.59 236.4,175.08 236.9,175.55 237.4,176.01 237.9,176.44 238.4,176.86 238.9,177.25 239.4,177.61 239.9,177.95 240.4,178.26 240.9,178.54 241.4,178.78 241.9,179 242.4,179.17 242.9,179.31 243.4,179.41 243.9,179.47 244.4,179.5 244.9,179.49 245.4,179.46 245.9,179.43 246.4,179.39 246.9,179.37 247.4,179.36 247.9,179.37 248.4,179.4 248.9,179.45 249.4,179.52 249.9,179.6 250.4,179.69 250.9,179.79 251.4,179.9 251.9,180.02 252.4,180.15 252.9,180.27 253.4,180.4 253.9,180.53 254.4,180.66 254.9,180.78 255.4,180.9 255.9,181.01 256.4,181.11 256.9,181.21 257.4,181.28 257.9,181.35 258.4,181.41 258.9,181.46 259.4,181.51 259.9,181.55 260.4,181.59 260.9,181.64 261.4,181.68 261.9,181.73 262.4,181.78 262.9,181.84 263.4,181.91 263.9,181.98 264.4,182.06 264.9,182.13 265.4,182.2 265.9,182.27 266.4,182.32 266.9,182.36 267.4,182.39 267.9,182.39 268.4,182.37 268.9,182.33 269.4,182.27 269.9,182.19 270.4,182.09 270.9,181.99 271.4,181.88 271.9,181.77 272.4,181.65 272.9,181.54 273.4,181.43 273.9,181.32 274.4,181.22 274.9,181.12 275.4,181.02 275.9,180.93 276.4,180.84 276.9,180.76 277.4,180.68 277.9,180.6 278.4,180.53 278.9,180.46 279.4,180.39 279.9,180.33 280.4,180.28 280.9,180.22 281.4,180.18 281.9,180.13 282.4,180.1 282.9,180.06 283.4,180.03 283.9,180.01 284.4,179.99 284.9,179.98 285.4,179.97 285.9,179.98 286.4,180 286.9,180.03 287.4,180.08 287.9,180.14 288.4,180.22 288.9,180.33 289.4,180.45 289.9,180.61 290.4,180.78 290.9,180.99 291.4,181.22 291.9,181.48 292.4,181.75 292.9,182.03 293.4,182.3 293.9,182.55 294.4,182.77 294.9,182.95 295.4,183.1 295.9,183.22 296.4,183.31 296.9,183.37 297.4,183.41 297.9,183.42 298.4,183.41 298.9,183.38 299.4,183.34 299.9,183.28 300.4,183.2 300.9,183.12 301.4,183.03 301.9,182.93 302.4,182.82 302.9,182.72 303.4,182.61 303.9,182.51 304.4,182.41 304.9,182.31 305.4,182.22 305.9,182.15 306.4,182.08 306.9,182.03 307.4,182 307.9,181.98 308.4,181.99 308.9,182.01 309.4,182.04 309.9,182.09 310.4,182.15 310.9,182.21 311.4,182.29 311.9,182.37 312.4,182.45 312.9,182.54 313.4,182.63 313.9,182.71 314.4,182.79 314.9,182.87 315.4,182.94 315.9,183 316.4,183.05 316.9,183.09 317.4,183.11 317.9,183.12 318.4,183.11 318.9,183.08 319.4,183.03 319.9,182.95 320.4,182.85 320.9,182.73 321.4,182.57 321.9,182.38 322.4,182.17 322.9,181.93 323.4,181.67 323.9,181.41 324.4,181.14 324.9,180.88 325.4,180.63 325.9,180.4 326.4,180.2 326.9,180.03 327.4,179.9 327.9,179.83 328.4,179.8" stroke="#d95319" stroke-width="1.4"/>
<path clip-path="url(#cBR)" d="M385.6,205.4 386.1,205.19 386.6,205.01 387.1,204.85 387.6,204.71 388.1,204.57 388.6,204.45 389.1,204.33 389.6,204.21 390.1,204.08 390.6,203.95 391.1,203.8 391.6,203.64 392.1,203.45 392.6,203.25 393.1,203.05 393.6,202.86 394.1,202.69 394.6,202.54 395.1,202.44 395.6,202.38 396.1,202.38 396.6,202.42 397.1,202.48 397.6,202.56 398.1,202.65 398.6,202.73 399.1,202.8 399.6,202.83 400.1,202.84 400.6,202.82 401.1,202.77 401.6,202.69 402.1,202.58 402.6,202.46 403.1,202.31 403.6,202.14 404.1,201.96 404.6,201.78 405.1,201.62 405.6,201.47 406.1,201.36 406.6,201.28 407.1,201.23 407.6,201.19 408.1,201.17 408.6,201.15 409.1,201.12 409.6,201.08 410.1,201.02 410.6,200.93 411.1,200.82 411.6,200.67 412.1,200.49 412.6,200.27 413.1,200.01 413.6,199.71 414.1,199.35 414.6,198.94 415.1,198.48 415.6,197.96 416.1,197.37 416.6,196.72 417.1,196 417.6,195.21 418.1,194.34 418.6,193.4 419.1,192.39 419.6,191.34 420.1,190.26 420.6,189.14 421.1,188.01 421.6,186.88 422.1,185.75 422.6,184.64 423.1,183.56 423.6,182.52 424.1,181.52 424.6,180.6 425.1,179.74 425.6,178.95 426.1,178.21 426.6,177.54 427.1,176.91 427.6,176.33 428.1,175.78 428.6,175.26 429.1,174.77 429.6,174.3 430.1,173.84 430.6,173.38 431.1,172.94 431.6,172.51 432.1,172.09 432.6,171.7 433.1,171.34 433.6,171 434.1,170.69 434.6,170.39 435.1,170.08 435.6,169.75 436.1,169.34 436.6,168.74 437.1,167.81 437.6,166.54 438.1,165.04 438.6,163.44 439.1,161.83 439.6,160.31 440.1,158.98 440.6,157.92 441.1,157.24 441.6,157.01 442.1,157.3 442.6,158.08 443.1,159.36 443.6,161.04 444.1,162.97 444.6,164.96 445.1,166.93 445.6,168.88 446.1,170.79 446.6,172.67 447.1,174.5 447.6,176.27 448.1,177.97 448.6,179.59 449.1,181.15 449.6,182.64 450.1,184.07 450.6,185.44 451.1,186.76 451.6,188.03 452.1,189.25 452.6,190.43 453.1,191.57 453.6,192.7 454.1,193.83 454.6,194.99 455.1,196.2 455.6,197.48 456.1,198.84 456.6,200.29 457.1,201.85 457.6,203.52 458.1,205.29 458.6,207.06 459.1,208.7 459.6,210.07 460.1,211.07 460.6,211.71 461.1,212.07 461.6,212.24 462.1,212.28 462.6,212.24 463.1,212.13 463.6,211.96 464.1,211.74 464.6,211.49 465.1,211.22 465.6,210.93 466.1,210.65 466.6,210.38 467.1,210.13 467.6,209.91 468.1,209.74 468.6,209.64 469.1,209.6 469.6,209.64 470.1,209.76 470.6,209.95 471.1,210.19 471.6,210.46 472.1,210.76 472.6,211.07 473.1,211.37 473.6,211.65 474.1,211.9 474.6,212.12 475.1,212.34 475.6,212.55 476.1,212.78 476.6,213.03 477.1,213.33 477.6,213.68 478.1,214.08 478.6,214.54 479.1,215.04 479.6,215.56 480.1,216.11 480.6,216.65 481.1,217.19 481.6,217.72 482.1,218.21 482.6,218.68 483.1,219.12 483.6,219.51 484.1,219.86 484.6,220.15 485.1,220.4 485.6,220.58 486.1,220.69 486.6,220.73 487.1,220.7 487.6,220.58 488.1,220.4 488.6,220.18 489.1,219.94 489.6,219.71 490.1,219.51 490.6,219.35 491.1,219.22 491.6,219.13 492.1,219.04 492.6,218.96 493.1,218.88 493.6,218.78 494.1,218.65 494.6,218.48 495.1,218.27 495.6,218 496.1,217.67 496.6,217.29 497.1,216.86 497.6,216.41 498.1,215.93 498.6,215.43 499.1,214.92 499.6,214.39 500.1,213.87 500.6,213.33 501.1,212.8 501.6,212.27 502.1,211.74 502.6,211.22 503.1,210.7 503.6,210.21 504.1,209.72 504.6,209.26 505.1,208.81 505.6,208.4 506.1,208 506.6,207.64 507.1,207.31 507.6,207 508.1,206.73 508.6,206.49 509.1,206.27 509.6,206.09 510.1,205.94 510.6,205.81 511.1,205.72 511.6,205.66 512.1,205.62 512.6,205.62 513.1,205.64 513.6,205.69 514.1,205.77 514.6,205.86 515.1,205.96 515.6,206.06 516.1,206.17 516.6,206.27 517.1,206.36 517.6,206.43 518.1,206.48 518.6,206.51 519.1,206.52 519.6,206.51 520.1,206.49 520.6,206.45 521.1,206.4 521.6,206.34 522.1,206.27 522.6,206.18 523.1,206.09 523.6,205.99 524.1,205.88 524.6,205.76 525.1,205.64 525.6,205.52 526.1,205.39 526.6,205.26 527.1,205.12 527.6,204.99 528.1,204.86 528.6,204.72 529.1,204.59 529.6,204.47 530.1,204.34 530.6,204.22 531.1,204.11 531.6,204 532.1,203.9 532.6,203.81 533.1,203.73 533.6,203.66 534.1,203.61 534.6,203.57 535.1,203.55 535.6,203.55 536.1,203.56 536.6,203.61 537.1,203.67 537.6,203.76 538.1,203.88 538.6,204.03 539.1,204.21 539.6,204.4 540.1,204.6 540.6,204.8 541.1,204.98 541.6,205.13 542.1,205.24 542.6,205.29 543.1,205.3 543.6,205.25 544.1,205.18 544.6,205.07 545.1,204.95 545.6,204.81 546.1,204.68 546.6,204.55 547.1,204.44 547.6,204.36 548.1,204.31 548.6,204.3 549.1,204.35 549.6,204.46 550.1,204.66 550.6,204.95 551.1,205.34 551.6,205.82 552.1,206.37 552.6,206.97 553.1,207.61 553.6,208.27 554.1,208.93 554.6,209.58 555.1,210.21 555.6,210.79 556.1,211.31 556.6,211.78 557.1,212.22 557.6,212.64 558.1,213.05 558.6,213.48 559.1,213.95 559.6,214.44 560.1,214.98 560.6,215.55 561.1,216.16 561.6,216.81 562.1,217.51 562.6,218.25 563.1,219.03 563.6,219.86 564.1,220.74 564.6,221.66 565.1,222.61 565.6,223.55 566.1,224.48 566.6,225.36 567.1,226.18 567.6,226.91 568.1,227.55 568.6,228.1 569.1,228.59 569.6,229.06 570.1,229.52 570.6,229.99 571.1,230.51 571.6,231.08 572.1,231.7 572.6,232.33 573.1,232.98 573.6,233.63 574.1,234.26 574.6,234.86 575.1,235.42 575.6,235.94 576.1,236.41 576.6,236.84 577.1,237.22 577.6,237.53 578.1,237.75 578.6,237.87 579.1,237.86 579.6,237.7 580.1,237.41 580.6,237.03 581.1,236.62 581.6,236.21 582.1,235.85 582.6,235.56 583.1,235.32 583.6,235.12 584.1,234.94 584.6,234.78 585.1,234.62 585.6,234.45 586.1,234.26 586.6,234.06 587.1,233.86 587.6,233.65 588.1,233.43 588.6,233.21 589.1,233 589.6,232.78 590.1,232.57 590.6,232.37 591.1,232.18 591.6,231.99 592.1,231.83 592.6,231.68 593.1,231.54 593.6,231.43 594.1,231.35 594.6,231.28 595.1,231.25 595.6,231.24 596.1,231.26 596.6,231.3 597.1,231.34 597.6,231.37 598.1,231.38 598.6,231.37 599.1,231.32 599.6,231.22 600.1,231.06 600.6,230.83 601.1,230.52 601.6,230.12 602.1,229.65 602.6,229.12 603.1,228.55 603.6,227.97 604.1,227.39 604.6,226.84 605.1,226.33 605.6,225.85 606.1,225.4 606.6,224.98 607.1,224.58 607.6,224.19 608.1,223.82 608.6,223.45 609.1,223.09 609.6,222.72 610.1,222.35 610.6,221.96 611.1,221.56 611.6,221.13 612.1,220.68 612.6,220.2 613.1,219.68 613.6,219.13 614.1,218.57 614.6,218.01 615.1,217.48 615.6,216.99 616.1,216.57 616.6,216.23 617.1,215.99 617.6,215.87 618.1,215.84 618.6,215.88 619.1,215.94 619.6,216 620.1,216.03 620.6,215.97 621.1,215.84 621.6,215.64 622.1,215.38 622.6,215.07 623.1,214.72 623.6,214.34 624.1,213.95 624.6,213.57 625.1,213.2 625.6,212.88 626.1,212.62 626.6,212.43 627.1,212.33 627.6,212.29 628.1,212.29 628.6,212.34 629.1,212.4 629.6,212.46 630.1,212.5 630.6,212.51 631.1,212.48 631.6,212.42 632.1,212.33 632.6,212.23 633.1,212.12 633.6,212.01 634.1,211.9 634.6,211.82 635.1,211.77 635.6,211.75 636.1,211.78 636.6,211.85 637.1,211.95 637.6,212.08 638.1,212.22 638.6,212.38 639.1,212.54 639.6,212.7 640.1,212.84 640.6,212.96 641.1,213.06 641.6,213.12 642.1,213.16 642.6,213.17 643.1,213.15 643.6,213.12 644.1,213.05 644.6,212.97 645.1,212.87 645.6,212.74 646.1,212.61 646.6,212.45 647.1,212.28 647.6,212.1 648.1,211.91 648.6,211.7 649.1,211.49 649.6,211.27 650.1,211.05 650.6,210.82 651.1,210.58 651.6,210.35 652.1,210.11 652.6,209.86 653.1,209.6 653.6,209.33 654.1,209.04 654.6,208.72 655.1,208.39 655.6,208.03 656.1,207.65 656.6,207.26 657.1,206.88 657.6,206.52 658.1,206.18 658.6,205.89 659.1,205.64 659.6,205.46 660.1,205.35 660.6,205.33 661.1,205.38 661.6,205.51 662.1,205.69 662.6,205.92 663.1,206.17 663.6,206.43 664.1,206.7 664.6,206.96 665.1,207.19 665.6,207.41 666.1,207.6 666.6,207.78 667.1,207.94 667.6,208.08 668.1,208.2 668.6,208.31 669.1,208.4 669.6,208.48 670.1,208.54 670.6,208.58 671.1,208.62 671.6,208.64 672.1,208.64 672.6,208.63 673.1,208.61 673.6,208.58 674.1,208.53 674.6,208.47 675.1,208.4 675.6,208.32 676.1,208.22 676.6,208.12 677.1,208 677.6,207.87 678.1,207.74 678.6,207.59 679.1,207.43 679.6,207.26 680.1,207.09 680.6,206.9 681.1,206.71 681.6,206.5 682.1,206.29 682.6,206.07 683.1,205.84 683.6,205.61 684.1,205.37 684.3,205.27" stroke="#d95319" stroke-width="1.4"/>
</g>
<path d="M35.4,107.35 v-3 M35.4,10.4 v3 M94.05,107.35 v-3 M94.05,10.4 v3 M152.8,107.35 v-3 M152.8,10.4 v3 M211.55,107.35 v-3 M211.55,10.4 v3 M270.3,107.35 v-3 M270.3,10.4 v3 M328.6,107.35 v-3 M328.6,10.4 v3 M35.4,101 h3 M328.6,101 h-3 M35.4,85.8 h3 M328.6,85.8 h-3 M35.4,70.6 h3 M328.6,70.6 h-3 M35.4,55.4 h3 M328.6,55.4 h-3 M35.4,40.2 h3 M328.6,40.2 h-3 M35.4,25 h3 M328.6,25 h-3 M35.4,9.8 h3 M328.6,9.8 h-3" stroke="#666" stroke-width="0.75" fill="none"/><rect x="35.4" y="10.4" width="293.2" height="96.95" fill="none" stroke="#8c8c8c" stroke-width="0.9"/><g font-family='"Liberation Sans", sans-serif' font-size="7" fill="#111" stroke="#2a2a2a" stroke-width="0.1"><text x="35.3" y="116.8" text-anchor="middle">570</text><text x="94.05" y="116.8" text-anchor="middle">575</text><text x="152.8" y="116.8" text-anchor="middle">580</text><text x="211.55" y="116.8" text-anchor="middle">585</text><text x="270.3" y="116.8" text-anchor="middle">590</text><text x="329.05" y="116.8" text-anchor="middle">595</text><text x="32.2" y="103.5" text-anchor="end">0.4</text><text x="32.2" y="88.3" text-anchor="end">0.5</text><text x="32.2" y="73.1" text-anchor="end">0.6</text><text x="32.2" y="57.9" text-anchor="end">0.7</text><text x="32.2" y="42.7" text-anchor="end">0.8</text><text x="32.2" y="27.5" text-anchor="end">0.9</text><text x="32.2" y="12.9" text-anchor="end">1</text></g>
<path d="M35.4,241.4 v-3 M35.4,144.4 v3 M94.05,241.4 v-3 M94.05,144.4 v3 M152.8,241.4 v-3 M152.8,144.4 v3 M211.55,241.4 v-3 M211.55,144.4 v3 M270.3,241.4 v-3 M270.3,144.4 v3 M328.6,241.4 v-3 M328.6,144.4 v3 M35.4,241.4 h3 M328.6,241.4 h-3 M35.4,222 h3 M328.6,222 h-3 M35.4,202.6 h3 M328.6,202.6 h-3 M35.4,183.2 h3 M328.6,183.2 h-3 M35.4,163.8 h3 M328.6,163.8 h-3 M35.4,144.4 h3 M328.6,144.4 h-3" stroke="#666" stroke-width="0.75" fill="none"/><rect x="35.4" y="144.4" width="293.2" height="97" fill="none" stroke="#8c8c8c" stroke-width="0.9"/><g font-family='"Liberation Sans", sans-serif' font-size="7" fill="#111" stroke="#2a2a2a" stroke-width="0.1"><text x="35.3" y="251" text-anchor="middle">570</text><text x="94.05" y="251" text-anchor="middle">575</text><text x="152.8" y="251" text-anchor="middle">580</text><text x="211.55" y="251" text-anchor="middle">585</text><text x="270.3" y="251" text-anchor="middle">590</text><text x="329.05" y="251" text-anchor="middle">595</text><text x="32.2" y="243.9" text-anchor="end">-0.015</text><text x="32.2" y="224.5" text-anchor="end">-0.01</text><text x="32.2" y="205.1" text-anchor="end">-0.005</text><text x="32.2" y="185.7" text-anchor="end">0</text><text x="32.2" y="166.3" text-anchor="end">0.005</text><text x="32.2" y="146.9" text-anchor="end">0.01</text></g>
<path d="M398.05,108.7 v-3 M398.05,10.4 v3 M460.27,108.7 v-3 M460.27,10.4 v3 M522.5,108.7 v-3 M522.5,10.4 v3 M584.73,108.7 v-3 M584.73,10.4 v3 M646.96,108.7 v-3 M646.96,10.4 v3 M385.6,106.2 h3 M684.3,106.2 h-3 M385.6,92.54 h3 M684.3,92.54 h-3 M385.6,78.87 h3 M684.3,78.87 h-3 M385.6,65.2 h3 M684.3,65.2 h-3 M385.6,51.54 h3 M684.3,51.54 h-3 M385.6,37.88 h3 M684.3,37.88 h-3 M385.6,24.21 h3 M684.3,24.21 h-3" stroke="#666" stroke-width="0.75" fill="none"/><rect x="385.6" y="10.4" width="298.7" height="98.3" fill="none" stroke="#8c8c8c" stroke-width="0.9"/><g font-family='"Liberation Sans", sans-serif' font-size="7" fill="#111" stroke="#2a2a2a" stroke-width="0.1"><text x="398.05" y="118.6" text-anchor="middle">635</text><text x="460.27" y="118.6" text-anchor="middle">640</text><text x="522.5" y="118.6" text-anchor="middle">645</text><text x="584.73" y="118.6" text-anchor="middle">650</text><text x="646.96" y="118.6" text-anchor="middle">655</text><text x="382.4" y="108.7" text-anchor="end">0.65</text><text x="382.4" y="95.04" text-anchor="end">0.7</text><text x="382.4" y="81.37" text-anchor="end">0.75</text><text x="382.4" y="67.7" text-anchor="end">0.8</text><text x="382.4" y="54.04" text-anchor="end">0.85</text><text x="382.4" y="40.38" text-anchor="end">0.9</text><text x="382.4" y="26.71" text-anchor="end">0.95</text></g>
<path d="M398.04,245.3 v-3 M398.04,147.4 v3 M460.25,245.3 v-3 M460.25,147.4 v3 M522.46,245.3 v-3 M522.46,147.4 v3 M584.67,245.3 v-3 M584.67,147.4 v3 M646.88,245.3 v-3 M646.88,147.4 v3 M385.6,245.3 h3 M684.2,245.3 h-3 M385.6,225.72 h3 M684.2,225.72 h-3 M385.6,206.14 h3 M684.2,206.14 h-3 M385.6,186.56 h3 M684.2,186.56 h-3 M385.6,166.98 h3 M684.2,166.98 h-3 M385.6,147.4 h3 M684.2,147.4 h-3" stroke="#666" stroke-width="0.75" fill="none"/><rect x="385.6" y="147.4" width="298.6" height="97.9" fill="none" stroke="#8c8c8c" stroke-width="0.9"/><g font-family='"Liberation Sans", sans-serif' font-size="7" fill="#111" stroke="#2a2a2a" stroke-width="0.1"><text x="398.04" y="255.2" text-anchor="middle">635</text><text x="460.25" y="255.2" text-anchor="middle">640</text><text x="522.46" y="255.2" text-anchor="middle">645</text><text x="584.67" y="255.2" text-anchor="middle">650</text><text x="646.88" y="255.2" text-anchor="middle">655</text><text x="382.4" y="247.8" text-anchor="end">-0.01</text><text x="382.4" y="228.22" text-anchor="end">-0.005</text><text x="382.4" y="208.64" text-anchor="end">0</text><text x="382.4" y="189.06" text-anchor="end">0.005</text><text x="382.4" y="169.48" text-anchor="end">0.01</text><text x="382.4" y="149.9" text-anchor="end">0.015</text></g>
<line x1="269.6" y1="22.3" x2="289.8" y2="22.3" stroke="#ff0000" stroke-width="1.2" stroke-linecap="round"/><line x1="269.6" y1="35.5" x2="289.8" y2="35.5" stroke="#0000ff" stroke-width="1.2" stroke-linecap="round"/><g font-family='"Liberation Serif", serif' font-size="11.2" fill="#1a1a1a"><text x="291.4" y="24.5" textLength="17.4" lengthAdjust="spacingAndGlyphs">-0.2</text><text x="312.5" y="24.5" textLength="7.8" lengthAdjust="spacingAndGlyphs">T</text><text x="291.9" y="37.3" textLength="13.6" lengthAdjust="spacingAndGlyphs">0.2</text><text x="309.1" y="37.3" textLength="7.8" lengthAdjust="spacingAndGlyphs">T</text></g>
<line x1="624.1" y1="22.4" x2="644.6" y2="22.4" stroke="#ff0000" stroke-width="1.2" stroke-linecap="round"/><line x1="624.1" y1="35.7" x2="644.6" y2="35.7" stroke="#0000ff" stroke-width="1.2" stroke-linecap="round"/><g font-family='"Liberation Serif", serif' font-size="11.2" fill="#1a1a1a"><text x="646.6" y="25.1" textLength="17.4" lengthAdjust="spacingAndGlyphs">-0.2</text><text x="667.7" y="25.1" textLength="7.8" lengthAdjust="spacingAndGlyphs">T</text><text x="647.1" y="38.6" textLength="13.6" lengthAdjust="spacingAndGlyphs">0.2</text><text x="664.3" y="38.6" textLength="7.8" lengthAdjust="spacingAndGlyphs">T</text></g>
<line x1="264.4" y1="229.5" x2="284.3" y2="229.5" stroke="#d95319" stroke-width="1.25" stroke-linecap="round"/><text x="287" y="232.2" font-family='"Liberation Serif", serif' font-size="11.2" fill="#1a1a1a" textLength="33.6" lengthAdjust="spacingAndGlyphs">XMCD</text>
<line x1="618.9" y1="233" x2="638.8" y2="233" stroke="#d95319" stroke-width="1.25" stroke-linecap="round"/><text x="641.4" y="235.8" font-family='"Liberation Serif", serif' font-size="11.6" fill="#1a1a1a" textLength="34.4" lengthAdjust="spacingAndGlyphs">XMCD</text>
<text x="181.7" y="126.9" text-anchor="middle" font-family='"Liberation Serif", serif' font-size="10.6" fill="#262626" textLength="81.8" lengthAdjust="spacingAndGlyphs">Photon energy (eV)</text>
<text x="182.1" y="261" text-anchor="middle" font-family='"Liberation Serif", serif' font-size="10.6" fill="#262626" textLength="82.4" lengthAdjust="spacingAndGlyphs">Photon energy (eV)</text>
<text x="534.9" y="129.2" text-anchor="middle" font-family='"Liberation Serif", serif' font-size="10.6" fill="#262626" textLength="83" lengthAdjust="spacingAndGlyphs">Photon energy (eV)</text>
<text x="534.9" y="265.6" text-anchor="middle" font-family='"Liberation Serif", serif' font-size="10.6" fill="#262626" textLength="83" lengthAdjust="spacingAndGlyphs">Photon energy (eV)</text>
<text transform="translate(17.7,58.9) rotate(-90)" text-anchor="middle" font-family='"Liberation Serif", serif' font-size="10.6" fill="#262626" textLength="70" lengthAdjust="spacingAndGlyphs">XAS (arb. units)</text>
<text transform="translate(7.9,193) rotate(-90)" text-anchor="middle" font-family='"Liberation Serif", serif' font-size="10.6" fill="#262626" textLength="80.5" lengthAdjust="spacingAndGlyphs">XMCD (arb. units)</text>
<text transform="translate(364.3,59.6) rotate(-90)" text-anchor="middle" font-family='"Liberation Serif", serif' font-size="10.6" fill="#262626" textLength="71" lengthAdjust="spacingAndGlyphs">XAS (arb. units)</text>
<text transform="translate(358,195.8) rotate(-90)" text-anchor="middle" font-family='"Liberation Serif", serif' font-size="10.6" fill="#262626" textLength="81.4" lengthAdjust="spacingAndGlyphs">XMCD (arb. units)</text>
<g font-family='"Liberation Sans", sans-serif' font-weight="bold" font-size="9" fill="#000" text-anchor="middle" lengthAdjust="spacingAndGlyphs">
<text x="181.8" y="7.7" textLength="8.8" lengthAdjust="spacingAndGlyphs">Cr</text><text x="534.7" y="7.7" textLength="11.4" lengthAdjust="spacingAndGlyphs">Mn</text></g>
<g font-family='"Liberation Sans", sans-serif' font-size="12.5" fill="#000" stroke="#000" stroke-width="0.25">
<text x="4.9" y="9.0">(a)</text><text x="348.5" y="9.3">(b)</text></g>
</svg>
</body></html>
